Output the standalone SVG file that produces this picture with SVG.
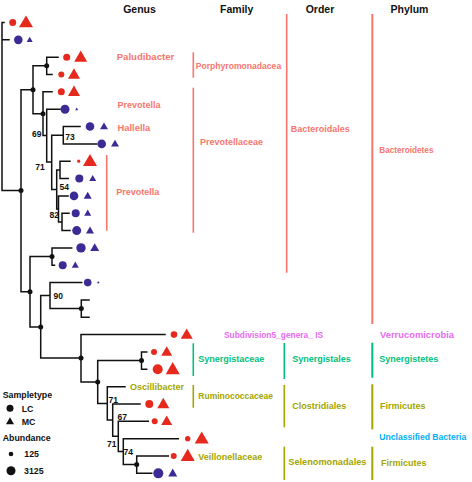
<svg xmlns="http://www.w3.org/2000/svg" width="472" height="482" viewBox="0 0 472 482">
<style>
.edge{fill:none;stroke:#111;stroke-width:1.5;stroke-linecap:square}
.nd{fill:#111}
.r{fill:#E52A1D}
.b{fill:#3B2C95}
.k{fill:#111}
.t{font-family:"Liberation Sans",Arial,sans-serif;font-weight:bold}
.hd{font-size:10.5px;fill:#111;text-anchor:middle}
.bs{font-size:8.5px;fill:#111;text-anchor:middle}
.lab{font-size:9px}
.lg{font-size:8.8px;fill:#111}
.sal{fill:#F8766D}.salb{stroke:#F8766D}
.grn{fill:#00BF7D}.grnb{stroke:#00BF7D}
.olv{fill:#A3A500}.olvb{stroke:#A3A500}
.mag{fill:#E76BF3}
.blu{fill:#00B0F6}
.bar{fill:none;stroke-width:1.6}
.bar2{fill:none;stroke-width:2}
</style>
<rect width="472" height="482" fill="#fff"/>
<g id="connectors">
<path class="edge" d="M2,22.5V190.4M2,22.5H4M2,39.84H9M2,190.4H21
M21,89.8V291.8M21,89.8H33M33,65.85V113.7
M33,65.85H46.7M46.7,57.18V74.52M46.7,57.18H58M46.7,74.52H52
M33,113.7H43M43,91.86V135.6M43,91.86H52M43,135.6H46.7
M46.7,109.2V162M46.7,109.2H60M46.7,162H51.7
M51.7,135.2V189.4M51.7,135.2H63.3M51.7,189.4H56.7
M63.3,126.54V143.88M63.3,126.54H80M63.3,143.88H96.7
M56.7,169.9V208.9M56.7,169.9H60M56.7,208.9H58.5
M60,161.22V178.56M60,161.22H70M60,178.56H68.3
M58.5,195.9V221.9M58.5,195.9H68M58.5,221.9H62
M62,213.24V230.58M62,213.24H69M62,230.58H70
M21,291.8H30M30,256.6V327M30,256.6H52M52,247.92V265.26M52,247.92H71.7M52,265.26H54.5
M30,327H40.7M40.7,295.6V358M40.7,295.6H50M50,282.6V308.6M50,282.6H81.7M50,308.6H81.3
M81.3,299.94V317.28M81.3,299.94H89M81.3,317.28H89
M40.7,358H81M81,334.62V382M81,334.62H165M81,382H97.7
M97.7,360.6V403.4M97.7,360.6H141.5M141.5,351.96V369.3M141.5,351.96H146.7M141.5,369.3H146.7
M97.7,403.4H107.3M107.3,386.64V420.1M107.3,386.64H125M107.3,420.1H112.7
M112.7,403.98V436.2M112.7,403.98H140M112.7,436.2H118.3
M118.3,421.32V451.4M118.3,421.32H148.3M118.3,451.4H123.3
M123.3,438.66V464.6M123.3,438.66H178.3M123.3,464.6H136.7
M136.7,456V473.34M136.7,456H168.3M136.7,473.34H151.7"/>
<g class="nd">
<circle cx="21" cy="190.4" r="2.5"/><circle cx="33" cy="89.8" r="2.5"/><circle cx="46.7" cy="65.85" r="2.5"/><circle cx="43" cy="113.7" r="2.5"/>
<circle cx="30" cy="291.8" r="2.5"/><circle cx="52" cy="256.6" r="2.5"/><circle cx="40.7" cy="327" r="2.5"/><circle cx="81.3" cy="308.6" r="2.5"/>
<circle cx="81" cy="358" r="2.5"/><circle cx="97.7" cy="382" r="2.5"/><circle cx="141.5" cy="360.6" r="2.5"/><circle cx="136.7" cy="464.6" r="2.5"/>
</g>
<g class="t bs">
<text x="36.7" y="137">69</text><text x="40" y="169.5">71</text><text x="70" y="140">73</text><text x="64.3" y="189.5">54</text>
<text x="54.3" y="217.5">82</text><text x="58.3" y="299">90</text><text x="113.3" y="403">71</text><text x="122.3" y="420">67</text>
<text x="111.7" y="446.5">71</text><text x="128.3" y="455">74</text>
</g>
</g>
<g id="tips">
<g id="tip1"><circle class="r" cx="12.7" cy="22.5" r="3.5"/><polygon class="r" points="26,15.5 19,27.3 33,27.3"/></g>
<g id="tip2"><circle class="b" cx="18.3" cy="39.84" r="4.3"/><polygon class="b" points="29.7,36.7 26.7,41.9 32.7,41.9"/></g>
<g id="tip3"><circle class="r" cx="66.7" cy="57.18" r="3.5"/><polygon class="r" points="80.7,50.5 74.2,61.8 87.2,61.8"/></g>
<g id="tip4"><circle class="r" cx="61.3" cy="74.52" r="3"/><polygon class="r" points="74,68.3 68,78.7 80,78.7"/></g>
<g id="tip5"><circle class="r" cx="61.3" cy="91.86" r="3.5"/><polygon class="r" points="74,85.6 68,96 80,96"/></g>
<g id="tip6"><circle class="b" cx="65" cy="109.2" r="4.5"/><polygon class="b" points="76.7,107.6 75.2,110.2 78.2,110.2"/></g>
<g id="tip7"><circle class="b" cx="90" cy="126.54" r="4.3"/><polygon class="b" points="104,122.4 100,129.3 108,129.3"/></g>
<g id="tip8"><circle class="b" cx="101.7" cy="143.88" r="4.3"/><polygon class="b" points="115,139.7 111,146.6 119,146.6"/></g>
<g id="tip9"><circle class="r" cx="78.7" cy="161.22" r="1.6"/><polygon class="r" points="90,153.9 83,166.1 97,166.1"/></g>
<g id="tip10"><circle class="b" cx="79.3" cy="178.56" r="4"/><polygon class="b" points="92.7,174.9 89.2,181 96.2,181"/></g>
<g id="tip11"><circle class="b" cx="74" cy="195.9" r="4.3"/><polygon class="b" points="87.7,191.7 83.7,198.7 91.7,198.7"/></g>
<g id="tip12"><circle class="b" cx="75.7" cy="213.24" r="4"/><polygon class="b" points="87.7,209.6 84.2,215.7 91.2,215.7"/></g>
<g id="tip13"><circle class="b" cx="76.7" cy="230.58" r="4.5"/><polygon class="b" points="90,226.4 86,233.4 94,233.4"/></g>
<g id="tip14"><circle class="b" cx="81" cy="247.92" r="4.7"/><polygon class="b" points="94.7,243.2 90.2,251.1 99.2,251.1"/></g>
<g id="tip15"><circle class="b" cx="62.7" cy="265.26" r="4"/><polygon class="b" points="75.3,261.6 71.8,267.7 78.8,267.7"/></g>
<g id="tip16"><circle class="b" cx="87.7" cy="282.6" r="3.8"/><circle class="b" cx="98.3" cy="282.6" r="1"/></g>
<g id="tip19"><circle class="r" cx="174" cy="334.62" r="3.3"/><polygon class="r" points="186.7,328.4 180.7,338.8 192.7,338.8"/></g>
<g id="tip20"><circle class="r" cx="154" cy="351.96" r="3"/><polygon class="r" points="166.7,346.2 161.2,355.8 172.2,355.8"/></g>
<g id="tip21"><circle class="r" cx="157.7" cy="369.3" r="5"/><polygon class="r" points="172.7,362 165.7,374.2 179.7,374.2"/></g>
<g id="tip23"><circle class="r" cx="149.3" cy="403.98" r="4"/><polygon class="r" points="163.3,397.7 157.3,408.2 169.3,408.2"/></g>
<g id="tip24"><circle class="r" cx="154.7" cy="421.32" r="3"/><polygon class="r" points="166.7,415.6 161.2,425.1 172.2,425.1"/></g>
<g id="tip25"><circle class="r" cx="187.7" cy="438.66" r="2.7"/><polygon class="r" points="201.7,431.4 194.7,443.5 208.7,443.5"/></g>
<g id="tip26"><circle class="r" cx="173.7" cy="456" r="3"/><polygon class="r" points="187.7,448.7 180.7,460.9 194.7,460.9"/></g>
<g id="tip27"><circle class="b" cx="158.3" cy="473.34" r="5"/><polygon class="b" points="172.7,468.6 168.2,476.5 177.2,476.5"/></g>
</g>
<g id="headers" class="t hd">
<text x="139.5" y="13">Genus</text><text x="236.7" y="13">Family</text><text x="320" y="13">Order</text><text x="409.5" y="13">Phylum</text>
</g>
<g id="genus" class="t lab">
<text class="sal" x="116.7" y="60" style="font-size:9.6px">Paludibacter</text>
<text class="sal" x="117.5" y="107.5">Prevotella</text>
<text class="sal" x="117.5" y="130.5" style="font-size:9.4px">Hallella</text>
<line class="bar salb" x1="106.7" y1="155" x2="106.7" y2="230.7"/>
<text class="sal" x="116.3" y="195.2">Prevotella</text>
<text class="mag" x="224" y="337.5" style="font-size:8.4px">Subdivision5_genera_ IS</text>
<text class="olv" x="130" y="389.9">Oscillibacter</text>
</g>
<g id="family" class="t lab">
<line class="bar salb" x1="193.3" y1="52.3" x2="193.3" y2="77.7"/>
<text class="sal" x="195.7" y="68.8" style="font-size:8.6px">Porphyromonadacea</text>
<line class="bar salb" x1="193.3" y1="87.7" x2="193.3" y2="232.7"/>
<text class="sal" x="200" y="145.2">Prevotellaceae</text>
<line class="bar grnb" x1="193.3" y1="343.3" x2="193.3" y2="376"/>
<text class="grn" x="198.3" y="362.2">Synergistaceae</text>
<line class="bar olvb" x1="193.3" y1="385" x2="193.3" y2="407.7"/>
<text class="olv" x="198.3" y="399.1" style="font-size:8.5px">Ruminococcaceae</text>
<text class="olv" x="198.3" y="459.9">Veillonellaceae</text>
</g>
<g id="order" class="t lab">
<line class="bar salb" x1="286.7" y1="14" x2="286.7" y2="272.7"/>
<text class="sal" x="290.7" y="132.4">Bacteroidales</text>
<line class="bar grnb" x1="284.3" y1="343" x2="284.3" y2="379"/>
<text class="grn" x="292.3" y="362.2">Synergistales</text>
<line class="bar olvb" x1="284.3" y1="385" x2="284.3" y2="427.3"/>
<text class="olv" x="292.3" y="409.2">Clostridiales</text>
<line class="bar olvb" x1="284.3" y1="446.7" x2="284.3" y2="480"/>
<text class="olv" x="288.3" y="465.2" style="font-size:9.2px">Selenomonadales</text>
</g>
<g id="phylum" class="t lab">
<line class="bar2 salb" x1="372.3" y1="14" x2="372.3" y2="324"/>
<text class="sal" x="379.3" y="152.6" style="font-size:8.2px">Bacteroidetes</text>
<text class="mag" x="380" y="338" style="font-size:9.4px">Verrucomicrobia</text>
<line class="bar2 grnb" x1="372.3" y1="342.7" x2="372.3" y2="377.7"/>
<text class="grn" x="379.3" y="362.2">Synergistetes</text>
<line class="bar2 olvb" x1="372.3" y1="384.3" x2="372.3" y2="429.3"/>
<text class="olv" x="380" y="409.2">Firmicutes</text>
<text class="blu" x="379.3" y="439.8" style="font-size:8.6px">Unclassified Bacteria</text>
<line class="bar2 olvb" x1="372.3" y1="446.7" x2="372.3" y2="480"/>
<text class="olv" x="381" y="465.9">Firmicutes</text>
</g>
<g id="legend" class="t lg">
<text x="2.7" y="398.2">Sampletype</text>
<circle class="k" cx="10" cy="408.3" r="3.5"/><text x="21.7" y="411.5">LC</text>
<polygon class="k" points="10,417.3 6,424.3 14,424.3"/><text x="21.7" y="424.9">MC</text>
<text x="2.7" y="440.9">Abundance</text>
<circle class="k" cx="11" cy="454" r="2.3"/><text x="24.3" y="457.2">125</text>
<circle class="k" cx="11" cy="470.7" r="4.5"/><text x="24" y="473.9">3125</text>
</g>
</svg>
